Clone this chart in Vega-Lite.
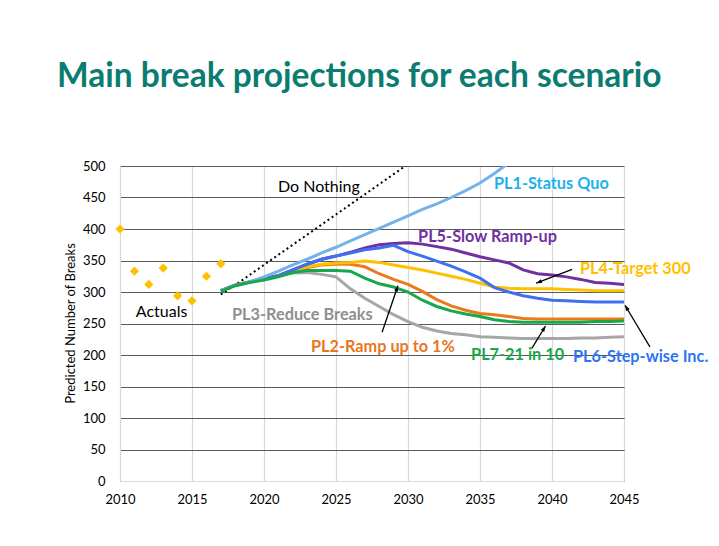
{
  "$schema": "https://vega.github.io/schema/vega-lite/v6.json",
  "width": 504,
  "height": 315,
  "autosize": {"type": "none"},
  "padding": {"left": 120, "top": 166, "right": 95, "bottom": 65},
  "background": "white",
  "config": {"font": "Lato", "view": {"stroke": null}},
  "title": {
    "text": "Main break projections for each scenario",
    "anchor": "start",
    "frame": "group",
    "dx": -63,
    "offset": 40,
    "fontSize": 33.5,
    "font": "Lato",
    "fontWeight": "bold",
    "color": "#0A7C70",
    "baseline": "alphabetic"
  },
  "datasets": {
    "proj": [
      {"series": "PL3", "year": 2017, "value": 302}, {"series": "PL3", "year": 2018, "value": 311}, {"series": "PL3", "year": 2019, "value": 316}, {"series": "PL3", "year": 2020, "value": 321}, {"series": "PL3", "year": 2021, "value": 326}, {"series": "PL3", "year": 2022, "value": 330}, {"series": "PL3", "year": 2023, "value": 331}, {"series": "PL3", "year": 2024, "value": 328}, {"series": "PL3", "year": 2025, "value": 324}, {"series": "PL3", "year": 2026, "value": 305}, {"series": "PL3", "year": 2027, "value": 290}, {"series": "PL3", "year": 2028, "value": 277}, {"series": "PL3", "year": 2029, "value": 264}, {"series": "PL3", "year": 2030, "value": 253}, {"series": "PL3", "year": 2031, "value": 244}, {"series": "PL3", "year": 2032, "value": 238}, {"series": "PL3", "year": 2033, "value": 234}, {"series": "PL3", "year": 2034, "value": 232}, {"series": "PL3", "year": 2035, "value": 229}, {"series": "PL3", "year": 2036, "value": 228}, {"series": "PL3", "year": 2037, "value": 227}, {"series": "PL3", "year": 2038, "value": 226}, {"series": "PL3", "year": 2039, "value": 226}, {"series": "PL3", "year": 2040, "value": 226}, {"series": "PL3", "year": 2041, "value": 226}, {"series": "PL3", "year": 2042, "value": 227}, {"series": "PL3", "year": 2043, "value": 227}, {"series": "PL3", "year": 2044, "value": 228}, {"series": "PL3", "year": 2045, "value": 229},
      {"series": "PL5", "year": 2017, "value": 302}, {"series": "PL5", "year": 2018, "value": 311}, {"series": "PL5", "year": 2019, "value": 316}, {"series": "PL5", "year": 2020, "value": 322}, {"series": "PL5", "year": 2021, "value": 326}, {"series": "PL5", "year": 2022, "value": 335}, {"series": "PL5", "year": 2023, "value": 344}, {"series": "PL5", "year": 2024, "value": 352}, {"series": "PL5", "year": 2025, "value": 357}, {"series": "PL5", "year": 2026, "value": 363}, {"series": "PL5", "year": 2027, "value": 370}, {"series": "PL5", "year": 2028, "value": 375}, {"series": "PL5", "year": 2029, "value": 377}, {"series": "PL5", "year": 2030, "value": 378}, {"series": "PL5", "year": 2031, "value": 376}, {"series": "PL5", "year": 2032, "value": 372}, {"series": "PL5", "year": 2033, "value": 368}, {"series": "PL5", "year": 2034, "value": 362}, {"series": "PL5", "year": 2035, "value": 356}, {"series": "PL5", "year": 2036, "value": 351}, {"series": "PL5", "year": 2037, "value": 346}, {"series": "PL5", "year": 2038, "value": 335}, {"series": "PL5", "year": 2039, "value": 329}, {"series": "PL5", "year": 2040, "value": 327}, {"series": "PL5", "year": 2041, "value": 324}, {"series": "PL5", "year": 2042, "value": 320}, {"series": "PL5", "year": 2043, "value": 315}, {"series": "PL5", "year": 2044, "value": 314}, {"series": "PL5", "year": 2045, "value": 312},
      {"series": "PL2", "year": 2017, "value": 302}, {"series": "PL2", "year": 2018, "value": 311}, {"series": "PL2", "year": 2019, "value": 316}, {"series": "PL2", "year": 2020, "value": 321}, {"series": "PL2", "year": 2021, "value": 326}, {"series": "PL2", "year": 2022, "value": 332}, {"series": "PL2", "year": 2023, "value": 339}, {"series": "PL2", "year": 2024, "value": 343}, {"series": "PL2", "year": 2025, "value": 344}, {"series": "PL2", "year": 2026, "value": 344}, {"series": "PL2", "year": 2027, "value": 340}, {"series": "PL2", "year": 2028, "value": 329}, {"series": "PL2", "year": 2029, "value": 320}, {"series": "PL2", "year": 2030, "value": 312}, {"series": "PL2", "year": 2031, "value": 301}, {"series": "PL2", "year": 2032, "value": 288}, {"series": "PL2", "year": 2033, "value": 278}, {"series": "PL2", "year": 2034, "value": 271}, {"series": "PL2", "year": 2035, "value": 266}, {"series": "PL2", "year": 2036, "value": 264}, {"series": "PL2", "year": 2037, "value": 261}, {"series": "PL2", "year": 2038, "value": 258}, {"series": "PL2", "year": 2039, "value": 257}, {"series": "PL2", "year": 2040, "value": 257}, {"series": "PL2", "year": 2041, "value": 257}, {"series": "PL2", "year": 2042, "value": 257}, {"series": "PL2", "year": 2043, "value": 257}, {"series": "PL2", "year": 2044, "value": 257}, {"series": "PL2", "year": 2045, "value": 257},
      {"series": "PL4", "year": 2017, "value": 302}, {"series": "PL4", "year": 2018, "value": 311}, {"series": "PL4", "year": 2019, "value": 316}, {"series": "PL4", "year": 2020, "value": 321}, {"series": "PL4", "year": 2021, "value": 326}, {"series": "PL4", "year": 2022, "value": 333}, {"series": "PL4", "year": 2023, "value": 340}, {"series": "PL4", "year": 2024, "value": 344}, {"series": "PL4", "year": 2025, "value": 346}, {"series": "PL4", "year": 2026, "value": 347}, {"series": "PL4", "year": 2027, "value": 349}, {"series": "PL4", "year": 2028, "value": 347}, {"series": "PL4", "year": 2029, "value": 343}, {"series": "PL4", "year": 2030, "value": 339}, {"series": "PL4", "year": 2031, "value": 335}, {"series": "PL4", "year": 2032, "value": 330}, {"series": "PL4", "year": 2033, "value": 325}, {"series": "PL4", "year": 2034, "value": 320}, {"series": "PL4", "year": 2035, "value": 314}, {"series": "PL4", "year": 2036, "value": 308}, {"series": "PL4", "year": 2037, "value": 306}, {"series": "PL4", "year": 2038, "value": 305}, {"series": "PL4", "year": 2039, "value": 305}, {"series": "PL4", "year": 2040, "value": 305}, {"series": "PL4", "year": 2041, "value": 304}, {"series": "PL4", "year": 2042, "value": 303}, {"series": "PL4", "year": 2043, "value": 302}, {"series": "PL4", "year": 2044, "value": 302}, {"series": "PL4", "year": 2045, "value": 302},
      {"series": "PL6", "year": 2017, "value": 302}, {"series": "PL6", "year": 2018, "value": 311}, {"series": "PL6", "year": 2019, "value": 316}, {"series": "PL6", "year": 2020, "value": 322}, {"series": "PL6", "year": 2021, "value": 326}, {"series": "PL6", "year": 2022, "value": 335}, {"series": "PL6", "year": 2023, "value": 344}, {"series": "PL6", "year": 2024, "value": 352}, {"series": "PL6", "year": 2025, "value": 357}, {"series": "PL6", "year": 2026, "value": 362}, {"series": "PL6", "year": 2027, "value": 367}, {"series": "PL6", "year": 2028, "value": 370}, {"series": "PL6", "year": 2029, "value": 374}, {"series": "PL6", "year": 2030, "value": 364}, {"series": "PL6", "year": 2031, "value": 357}, {"series": "PL6", "year": 2032, "value": 349}, {"series": "PL6", "year": 2033, "value": 341}, {"series": "PL6", "year": 2034, "value": 332}, {"series": "PL6", "year": 2035, "value": 322}, {"series": "PL6", "year": 2036, "value": 307}, {"series": "PL6", "year": 2037, "value": 300}, {"series": "PL6", "year": 2038, "value": 294}, {"series": "PL6", "year": 2039, "value": 290}, {"series": "PL6", "year": 2040, "value": 287}, {"series": "PL6", "year": 2041, "value": 286}, {"series": "PL6", "year": 2042, "value": 285}, {"series": "PL6", "year": 2043, "value": 284}, {"series": "PL6", "year": 2044, "value": 284}, {"series": "PL6", "year": 2045, "value": 284},
      {"series": "PL1", "year": 2017, "value": 302}, {"series": "PL1", "year": 2018, "value": 310}, {"series": "PL1", "year": 2019, "value": 316}, {"series": "PL1", "year": 2020, "value": 324}, {"series": "PL1", "year": 2021, "value": 333}, {"series": "PL1", "year": 2022, "value": 343}, {"series": "PL1", "year": 2023, "value": 352}, {"series": "PL1", "year": 2024, "value": 362}, {"series": "PL1", "year": 2025, "value": 371}, {"series": "PL1", "year": 2026, "value": 381}, {"series": "PL1", "year": 2027, "value": 391}, {"series": "PL1", "year": 2028, "value": 401}, {"series": "PL1", "year": 2029, "value": 411}, {"series": "PL1", "year": 2030, "value": 421}, {"series": "PL1", "year": 2031, "value": 431}, {"series": "PL1", "year": 2032, "value": 440}, {"series": "PL1", "year": 2033, "value": 450}, {"series": "PL1", "year": 2034, "value": 461}, {"series": "PL1", "year": 2035, "value": 473}, {"series": "PL1", "year": 2036, "value": 488}, {"series": "PL1", "year": 2037, "value": 505},
      {"series": "PL7", "year": 2017, "value": 301}, {"series": "PL7", "year": 2018, "value": 310}, {"series": "PL7", "year": 2019, "value": 315}, {"series": "PL7", "year": 2020, "value": 319}, {"series": "PL7", "year": 2021, "value": 324}, {"series": "PL7", "year": 2022, "value": 331}, {"series": "PL7", "year": 2023, "value": 334}, {"series": "PL7", "year": 2024, "value": 334}, {"series": "PL7", "year": 2025, "value": 334}, {"series": "PL7", "year": 2026, "value": 333}, {"series": "PL7", "year": 2027, "value": 322}, {"series": "PL7", "year": 2028, "value": 313}, {"series": "PL7", "year": 2029, "value": 308}, {"series": "PL7", "year": 2030, "value": 300}, {"series": "PL7", "year": 2031, "value": 287}, {"series": "PL7", "year": 2032, "value": 277}, {"series": "PL7", "year": 2033, "value": 270}, {"series": "PL7", "year": 2034, "value": 265}, {"series": "PL7", "year": 2035, "value": 261}, {"series": "PL7", "year": 2036, "value": 256}, {"series": "PL7", "year": 2037, "value": 253}, {"series": "PL7", "year": 2038, "value": 252}, {"series": "PL7", "year": 2039, "value": 252}, {"series": "PL7", "year": 2040, "value": 252}, {"series": "PL7", "year": 2041, "value": 252}, {"series": "PL7", "year": 2042, "value": 252}, {"series": "PL7", "year": 2043, "value": 253}, {"series": "PL7", "year": 2044, "value": 253}, {"series": "PL7", "year": 2045, "value": 254}
    ],
    "nothing": [
      {"year": 2017, "value": 296}, {"year": 2018, "value": 311}, {"year": 2019, "value": 327}, {"year": 2020, "value": 343}, {"year": 2021, "value": 359}, {"year": 2022, "value": 375}, {"year": 2023, "value": 391}, {"year": 2024, "value": 407}, {"year": 2025, "value": 423}, {"year": 2026, "value": 439}, {"year": 2027, "value": 455}, {"year": 2028, "value": 471}, {"year": 2029, "value": 487}, {"year": 2030, "value": 503}
    ],
    "actuals": [
      {"year": 2010, "value": 400}, {"year": 2011, "value": 333}, {"year": 2012, "value": 312}, {"year": 2013, "value": 338}, {"year": 2014, "value": 294}, {"year": 2015, "value": 286}, {"year": 2016, "value": 325}, {"year": 2017, "value": 345}
    ],
    "plain": [
      {"text": "Do Nothing", "year": 2020.97, "value": 467},
      {"text": "Actuals", "year": 2011.1, "value": 268}
    ],
    "labels": [
      {"text": "PL1-Status Quo", "series": "PL1", "year": 2035.97, "value": 471},
      {"text": "PL5-Slow Ramp-up", "series": "PL5", "year": 2030.7, "value": 387},
      {"text": "PL4-Target 300", "series": "PL4", "year": 2041.94, "value": 336.5},
      {"text": "PL3-Reduce Breaks", "series": "PL3", "year": 2017.78, "value": 263.5},
      {"text": "PL2-Ramp up to 1%", "series": "PL2", "year": 2023.26, "value": 212.7},
      {"text": "PL7-21 in 10", "series": "PL7", "year": 2034.38, "value": 199.5},
      {"text": "PL6-Step-wise Inc.", "series": "PL6", "year": 2041.46, "value": 196.5}
    ],
    "arrows": [
      {"id": "PL2", "x": 2028.2, "y": 236, "x2": 2029.3, "y2": 310},
      {"id": "PL4", "x": 2041.4, "y": 336, "x2": 2038.9, "y2": 314},
      {"id": "PL7", "x": 2038.6, "y": 210.6, "x2": 2039.55, "y2": 246},
      {"id": "PL6", "x": 2046.8, "y": 213, "x2": 2045.07, "y2": 279}
    ]
  },
  "encoding": {
    "x": {
      "field": "year", "type": "quantitative",
      "scale": {"domain": [2010, 2045], "nice": false, "zero": false},
      "axis": {
        "title": null, "values": [2010, 2015, 2020, 2025, 2030, 2035, 2040, 2045],
        "format": "d", "ticks": false, "labelPadding": 12, "labelFontSize": 13,
        "labelColor": "#000000", "labelFont": "Lato",
        "domainColor": "#D9D9D9", "gridColor": "#D9D9D9", "gridOpacity": 1, "gridWidth": 1.2,
        "labelFlush": false
      }
    },
    "y": {
      "field": "value", "type": "quantitative",
      "scale": {"domain": [0, 500], "nice": false},
      "axis": {
        "title": "Predicted Number of Breaks", "titleFontSize": 13, "titleFontWeight": "normal",
        "titleColor": "#000000", "titleFont": "Lato", "titleX": -50, "titleY": 157, "titleAlign": "center", "titleBaseline": "middle",
        "values": [0, 50, 100, 150, 200, 250, 300, 350, 400, 450, 500],
        "ticks": false, "labelPadding": 15, "labelFontSize": 13, "labelColor": "#000000", "labelFont": "Lato",
        "domainColor": "#D9D9D9", "gridColor": "#5A5A5A", "gridOpacity": 1, "gridWidth": 1.2
      }
    }
  },
  "layer": [
    {
      "data": {"name": "nothing"},
      "mark": {"type": "line", "color": "#000000", "strokeWidth": 2, "strokeDash": [2, 3], "clip": true},
      "encoding": {"x": {"field": "year", "type": "quantitative"}, "y": {"field": "value", "type": "quantitative"}}
    },
    {
      "data": {"name": "proj"},
      "mark": {"type": "line", "strokeWidth": 3, "clip": true},
      "encoding": {
        "color": {
          "field": "series", "type": "nominal", "legend": null,
          "scale": {
            "domain": ["PL1", "PL2", "PL3", "PL4", "PL5", "PL6", "PL7"],
            "range": ["#74B3EA", "#EC7A1C", "#A6A6A6", "#FFC000", "#7030A0", "#3F6FF2", "#16A84B"]
          }
        }
      }
    },
    {
      "data": {"name": "actuals"},
      "mark": {"type": "point", "shape": "diamond", "filled": true, "color": "#FFC000", "opacity": 1, "size": 85, "clip": false}
    },
    {
      "data": {"name": "plain"},
      "mark": {"type": "text", "align": "left", "baseline": "middle", "fontSize": 16, "color": "#000000", "font": "Lato"},
      "encoding": {"text": {"field": "text"}}
    },
    {
      "data": {"name": "labels"},
      "mark": {"type": "text", "align": "left", "baseline": "middle", "fontSize": 16.3, "fontWeight": "bold", "font": "Lato"},
      "encoding": {
        "text": {"field": "text"},
        "color": {
          "field": "series", "type": "nominal", "legend": null,
          "scale": {
            "domain": ["PL1", "PL2", "PL3", "PL4", "PL5", "PL6", "PL7"],
            "range": ["#1DB1EC", "#E8761E", "#8F8F8F", "#FFC000", "#7030A0", "#2F74F5", "#16A84B"]
          }
        }
      }
    },
    {
      "data": {"name": "arrows"},
      "mark": {"type": "rule", "color": "#000000", "strokeWidth": 1.3},
      "encoding": {
        "x": {"field": "x", "type": "quantitative"}, "y": {"field": "y", "type": "quantitative"},
        "x2": {"field": "x2"}, "y2": {"field": "y2"}
      }
    },
    {
      "data": {"name": "arrows"},
      "transform": [{"filter": "datum.id === 'PL2'"}],
      "mark": {"type": "point", "shape": "M0,0L-0.6,1.7L0.6,1.7Z", "filled": true, "color": "#000000", "opacity": 1, "size": 45, "angle": 19},
      "encoding": {"x": {"field": "x2", "type": "quantitative"}, "y": {"field": "y2", "type": "quantitative"}}
    },
    {
      "data": {"name": "arrows"},
      "transform": [{"filter": "datum.id === 'PL4'"}],
      "mark": {"type": "point", "shape": "M0,0L-0.6,1.7L0.6,1.7Z", "filled": true, "color": "#000000", "opacity": 1, "size": 45, "angle": 249},
      "encoding": {"x": {"field": "x2", "type": "quantitative"}, "y": {"field": "y2", "type": "quantitative"}}
    },
    {
      "data": {"name": "arrows"},
      "transform": [{"filter": "datum.id === 'PL7'"}],
      "mark": {"type": "point", "shape": "M0,0L-0.6,1.7L0.6,1.7Z", "filled": true, "color": "#000000", "opacity": 1, "size": 45, "angle": 32},
      "encoding": {"x": {"field": "x2", "type": "quantitative"}, "y": {"field": "y2", "type": "quantitative"}}
    },
    {
      "data": {"name": "arrows"},
      "transform": [{"filter": "datum.id === 'PL6'"}],
      "mark": {"type": "point", "shape": "M0,0L-0.6,1.7L0.6,1.7Z", "filled": true, "color": "#000000", "opacity": 1, "size": 45, "angle": 329},
      "encoding": {"x": {"field": "x2", "type": "quantitative"}, "y": {"field": "y2", "type": "quantitative"}}
    }
  ],
  "resolve": {"scale": {"color": "independent"}}
}
